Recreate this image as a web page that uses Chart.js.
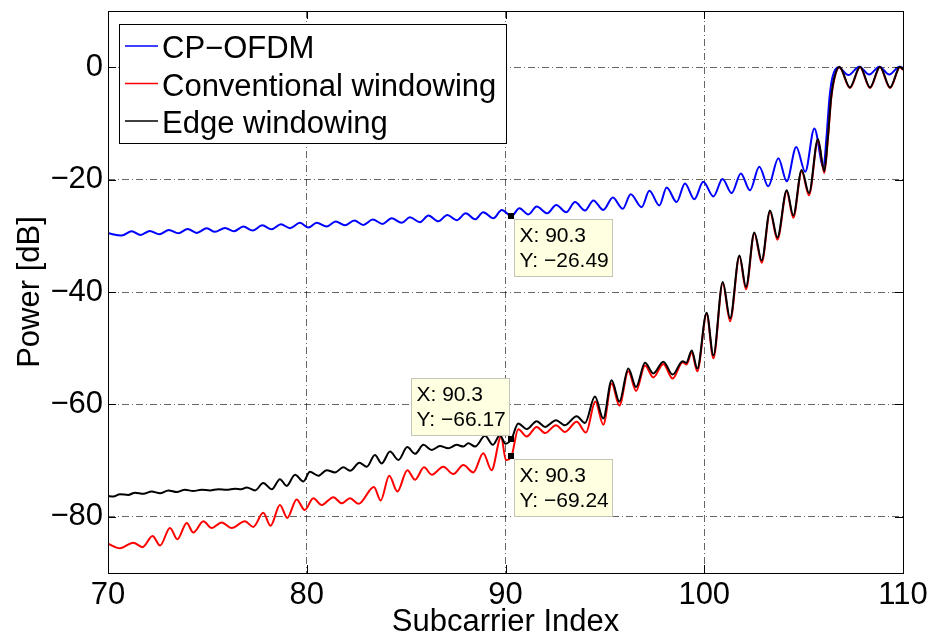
<!DOCTYPE html>
<html>
<head>
<meta charset="utf-8">
<script src="https://cdn.jsdelivr.net/npm/chart.js@4.4.0/dist/chart.umd.min.js"></script>
<style>
  html, body { margin: 0; padding: 0; background: #fff; }
  #wrap { width: 931px; height: 643px; }
</style>
</head>
<body>
<div id="wrap"><canvas id="my_chart" width="931" height="643"></canvas></div>
<script>
// values (peaks / troughs of each ripple)
var xTicks = [70, 80, 90, 100, 110]
var yTicks = [-80, -60, -40, -20, 0]

var cpX = [70.0,70.69,71.19,71.64,72.11,72.58,73.07,73.54,74.01,74.46,74.97,75.38,75.89,76.34,76.81,77.28,77.76,78.23,78.70,79.16,79.66,80.08,80.50,81.00,81.46,81.92,82.39,82.85,83.32,83.82,84.27,84.78,85.19,85.70,86.12,86.62,87.07,87.54,88.00,88.47,88.88,89.39,89.81,90.30,90.70,91.15,91.57,92.10,92.55,93.05,93.50,94.00,94.42,94.92,95.40,95.90,96.30,96.85,97.24,97.74,98.11,98.61,99.03,99.50,99.95,100.46,100.92,101.38,101.84,102.30,102.77,103.22,103.73,104.15,104.63,105.08,105.54,106.00,106.15,106.30,106.45,106.75,107.25,107.80,108.30,108.81,109.31,109.82,110.0]
var cpY = [-29.55,-29.96,-29.19,-29.84,-29.13,-29.72,-28.95,-29.55,-28.77,-29.48,-28.66,-29.30,-28.59,-29.19,-28.36,-29.07,-28.13,-28.84,-27.95,-28.66,-27.70,-28.54,-27.70,-28.36,-27.47,-28.13,-27.29,-28.06,-27.12,-27.88,-26.89,-27.70,-26.71,-27.59,-26.41,-27.42,-26.28,-27.24,-26.00,-27.06,-25.82,-26.89,-25.40,-26.49,-25.10,-26.20,-24.80,-26.00,-24.50,-25.80,-24.00,-25.50,-23.70,-25.40,-23.20,-25.20,-22.60,-24.90,-22.00,-24.60,-21.40,-24.00,-20.70,-23.50,-20.40,-23.00,-19.90,-22.40,-18.90,-21.90,-17.70,-21.20,-16.20,-20.30,-14.20,-18.60,-10.90,-17.80,-12.50,-5.50,-1.80,0.00,-1.40,0.10,-1.30,0.10,-1.30,0.10,-0.10]

var convX = [70.0,70.6,71.27,71.74,72.24,72.62,73.12,73.49,73.96,74.29,74.8,75.21,75.72,76.22,76.89,77.31,77.81,78.18,78.65,79.02,79.49,79.9,80.33,80.75,81.34,81.76,82.18,82.6,83.38,83.72,84.15,84.56,85.06,85.45,85.9,86.29,86.87,87.37,87.88,88.38,88.88,89.3,89.78,90.02,90.3,90.64,91.07,91.57,91.99,92.54,92.99,93.58,94.05,94.52,94.92,95.34,95.73,96.18,96.57,97.02,97.44,97.94,98.41,98.91,99.1,99.37,99.65,100.12,100.46,100.93,101.3,101.77,102.1,102.52,102.89,103.31,103.68,104.15,104.48,104.9,105.27,105.72,106.04,106.22,106.38,106.55,106.8,107.33,107.84,108.34,108.84,109.35,109.85,110.0]
var convY = [-84.8,-85.6,-84.6,-85.4,-83.4,-85.1,-82.0,-84.0,-81.1,-82.8,-80.8,-82.0,-81.0,-82.0,-80.8,-81.8,-79.3,-81.6,-77.9,-80.2,-76.9,-78.8,-76.7,-77.9,-76.5,-77.6,-76.7,-77.7,-74.7,-77.1,-72.7,-75.5,-71.7,-73.4,-71.2,-72.5,-71.1,-72.4,-70.8,-72.1,-68.7,-71.7,-65.7,-69.9,-69.24,-64.4,-65.7,-64.0,-65.1,-63.7,-64.9,-63.1,-65.0,-59.5,-63.6,-56.3,-60.2,-54.1,-57.6,-53.1,-55.2,-52.8,-55.4,-52.5,-52.9,-50.8,-54.1,-43.9,-51.8,-38.4,-45.2,-33.7,-39.5,-29.6,-34.8,-25.7,-30.7,-22.1,-26.8,-18.5,-22.8,-13.0,-18.8,-12.8,-5.8,-2.0,0.0,-3.7,0.0,-3.7,0.0,-3.7,0.0,-0.5]

var edgeX = [70.0,70.27,70.6,71.02,71.36,71.78,72.2,72.62,73.04,73.46,73.87,74.29,74.71,75.13,75.55,75.97,76.39,76.7,76.98,77.4,77.81,78.24,78.65,78.99,79.41,79.83,80.16,80.58,81.0,81.42,81.84,82.18,82.65,83.02,83.43,83.77,84.19,84.61,85.06,85.45,85.87,86.29,86.7,87.12,87.54,87.88,88.13,88.47,88.97,89.36,89.72,90.0,90.3,90.64,91.07,91.57,91.99,92.54,92.99,93.58,94.0,94.5,94.92,95.34,95.73,96.18,96.57,97.02,97.44,97.94,98.41,98.91,99.1,99.37,99.65,100.12,100.46,100.93,101.3,101.77,102.1,102.52,102.89,103.31,103.68,104.15,104.48,104.9,105.27,105.72,106.04,106.22,106.38,106.55,106.8,107.33,107.84,108.34,108.84,109.35,109.85,110.0]
var edgeY = [-76.3,-76.4,-76.0,-76.1,-75.7,-75.9,-75.5,-75.8,-75.3,-75.6,-75.2,-75.4,-75.2,-75.3,-75.1,-75.2,-75.0,-75.1,-74.8,-75.3,-74.0,-75.1,-73.3,-74.5,-72.5,-73.7,-72.0,-72.7,-71.7,-72.1,-71.2,-71.8,-70.4,-71.1,-69.0,-70.5,-68.4,-69.9,-67.6,-68.8,-67.2,-68.1,-67.4,-67.8,-67.2,-67.5,-66.9,-67.5,-65.6,-67.2,-65.5,-67.0,-66.17,-63.4,-64.4,-63.0,-64.0,-62.8,-63.7,-62.1,-63.3,-58.6,-62.5,-55.7,-59.5,-53.6,-56.9,-52.6,-54.5,-52.4,-54.7,-52.3,-52.6,-50.4,-53.6,-43.7,-51.3,-38.2,-44.7,-33.5,-39.1,-29.4,-34.4,-25.5,-30.3,-21.9,-26.4,-18.3,-22.4,-12.8,-18.5,-12.5,-5.5,-1.8,0.1,-3.6,0.1,-3.6,0.1,-3.6,0.1,-0.4]

// data cursors: which dataset, where, and which side the box sits on
var tipSeries = [0, 2, 1]
var tipX = [90.3, 90.3, 90.3]
var tipY = [-26.49, -66.17, -69.24]
var tipSide = ['br', 'tl', 'br']

var FONT = '"Liberation Sans", Arial, Helvetica, sans-serif'

function pts(xs, ys) {
  return xs.map((x, i) => ({x: x, y: ys[i]}))
}
function mfmt(v) {
  return v < 0 ? '\u2212' + (-v) : String(v)
}

var decor = {
  id: 'decor',
  afterDatasetsDraw(chart) {
    const ctx = chart.ctx
    const a = chart.chartArea
    const xs = chart.scales.x, ys = chart.scales.y
    ctx.save()
    // inward tick marks
    ctx.strokeStyle = '#000'
    ctx.lineWidth = 1
    ctx.beginPath()
    xTicks.forEach(v => {
      const px = Math.round(xs.getPixelForValue(v)) + 0.5
      ctx.moveTo(px, a.bottom); ctx.lineTo(px, a.bottom - 8)
      ctx.moveTo(px, a.top); ctx.lineTo(px, a.top + 8)
    })
    yTicks.forEach(v => {
      const py = Math.round(ys.getPixelForValue(v)) + 0.5
      ctx.moveTo(a.left, py); ctx.lineTo(a.left + 8, py)
      ctx.moveTo(a.right, py); ctx.lineTo(a.right - 8, py)
    })
    ctx.stroke()
    // axes box
    ctx.strokeRect(Math.round(a.left) + 0.5, Math.round(a.top) + 0.5, Math.round(a.width), Math.round(a.height))

    // data tips
    ctx.font = '21px ' + FONT
    ctx.textBaseline = 'alphabetic'
    ctx.textAlign = 'left'
    for (let i = 0; i < tipX.length; i++) {
      const px = xs.getPixelForValue(tipX[i])
      const py = ys.getPixelForValue(tipY[i])
      const w = 98, h = 57
      let bx, by
      if (tipSide[i] == 'br') { bx = px + 3; by = py + 3 }
      else { bx = px - 2 - w; by = py - 4 - h }
      ctx.fillStyle = '#ffffe1'
      ctx.fillRect(Math.round(bx) + 0.5, Math.round(by) + 0.5, w, h)
      ctx.strokeStyle = '#c4c4b4'
      ctx.strokeRect(Math.round(bx) + 0.5, Math.round(by) + 0.5, w, h)
      ctx.fillStyle = '#000'
      ctx.fillText('X: ' + tipX[i].toFixed(1), bx + 5, by + 23)
      ctx.fillText('Y: ' + mfmt(tipY[i].toFixed(2) * 1).replace(/(\.\d)$/, '$10'), bx + 5, by + 48)
      ctx.fillStyle = '#000'
      ctx.fillRect(Math.round(px) - 3, Math.round(py) - 3, 6, 6)
    }

    // legend
    const lx = 119, ly = 24, lw = 387, lh = 119
    ctx.fillStyle = '#fff'
    ctx.fillRect(lx, ly, lw, lh)
    ctx.strokeStyle = '#000'
    ctx.lineWidth = 1
    ctx.strokeRect(lx + 0.5, ly + 0.5, lw, lh)
    ctx.font = '31px ' + FONT
    chart.data.datasets.forEach((ds, i) => {
      const cy = 47 + i * 37.5
      ctx.strokeStyle = ds.borderColor
      ctx.lineWidth = 1.5
      ctx.beginPath()
      ctx.moveTo(125, cy - 1); ctx.lineTo(158, cy - 1)
      ctx.stroke()
      ctx.fillStyle = '#000'
      ctx.fillText(ds.label, 162, cy + 11)
    })
    ctx.restore()
  }
}

var ctx = document.getElementById('my_chart')
var my_chart = new Chart(ctx, {
  type: 'line',
  data: {
    datasets: [
      {label: 'CP\u2212OFDM', data: pts(cpX, cpY), borderColor: '#0000ff', order: 2},
      {label: 'Conventional windowing', data: pts(convX, convY), borderColor: '#ff0000', order: 1},
      {label: 'Edge windowing', data: pts(edgeX, edgeY), borderColor: '#000000', order: 0}
    ]
  },
  options: {
    responsive: false,
    animation: false,
    devicePixelRatio: 1,
    layout: {padding: {left: 0, right: 28, top: 11, bottom: 0}},
    elements: {
      point: {radius: 0},
      line: {borderWidth: 2, cubicInterpolationMode: 'monotone'}
    },
    plugins: {legend: {display: false}, tooltip: {enabled: false}},
    scales: {
      x: {
        type: 'linear', min: 70, max: 110,
        afterBuildTicks: s => { s.ticks = xTicks.map(v => ({value: v})) },
        afterFit: s => { s.height = 70; s.paddingLeft = 0; s.paddingRight = 0 },
        grid: {color: 'rgba(0,0,0,0.6)', lineWidth: 1, drawTicks: false},
        border: {display: false, dash: [7, 3, 1, 3]},
        ticks: {color: '#000', font: {family: FONT, size: 31}, padding: 4, maxRotation: 0, callback: v => mfmt(v)},
        title: {display: true, text: 'Subcarrier Index', color: '#000', font: {family: FONT, size: 31}, padding: {top: 0, bottom: 2}}
      },
      y: {
        type: 'linear', min: -90, max: 10,
        afterBuildTicks: s => { s.ticks = yTicks.map(v => ({value: v})) },
        afterFit: s => { s.width = 108; s.paddingTop = 0; s.paddingBottom = 0 },
        grid: {color: 'rgba(0,0,0,0.6)', lineWidth: 1, drawTicks: false},
        border: {display: false, dash: [7, 3, 1, 3]},
        ticks: {color: '#000', font: {family: FONT, size: 31}, padding: 5, callback: v => mfmt(v)},
        title: {display: true, text: 'Power [dB]', color: '#000', font: {family: FONT, size: 31}, padding: {top: 12, bottom: 0}}
      }
    }
  },
  plugins: [decor]
})
</script>
</body>
</html>
